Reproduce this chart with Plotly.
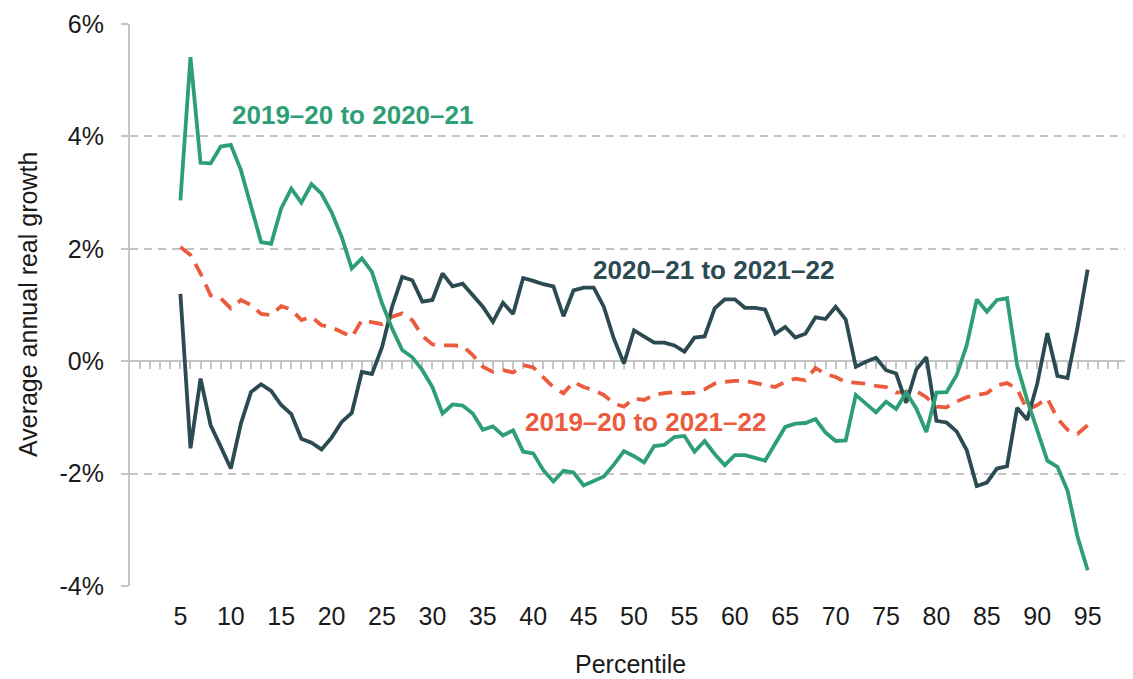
import plotly.graph_objects as go

percentiles = list(range(5, 96))

growth_2019_20_to_2020_21 = [
    2.86, 5.41, 3.53, 3.52, 3.82, 3.85, 3.40, 2.75, 2.12, 2.09,
    2.72, 3.07, 2.82, 3.15, 2.98, 2.65, 2.21, 1.65, 1.83, 1.59,
    1.03, 0.58, 0.20, 0.07, -0.16, -0.46, -0.93, -0.77, -0.79, -0.93,
    -1.22, -1.16, -1.32, -1.23, -1.61, -1.64, -1.94, -2.14, -1.95, -1.98,
    -2.21, -2.13, -2.05, -1.84, -1.60, -1.69, -1.80, -1.51, -1.49, -1.35,
    -1.33, -1.61, -1.42, -1.65, -1.85, -1.67, -1.67, -1.72, -1.77, -1.47,
    -1.17, -1.11, -1.10, -1.03, -1.27, -1.42, -1.41, -0.60, -0.75, -0.91,
    -0.72, -0.85, -0.56, -0.84, -1.26, -0.56, -0.55, -0.25, 0.28, 1.10,
    0.88, 1.09, 1.12, -0.07, -0.69, -1.23, -1.77, -1.88, -2.30, -3.13,
    -3.72,
]

growth_2020_21_to_2021_22 = [
    1.20, -1.55, -0.31, -1.14, -1.52, -1.91, -1.11, -0.55, -0.41, -0.53,
    -0.78, -0.94, -1.38, -1.45, -1.57, -1.36, -1.08, -0.92, -0.19, -0.23,
    0.25, 0.97, 1.50, 1.44, 1.06, 1.09, 1.56, 1.33, 1.38, 1.17,
    0.97, 0.70, 1.04, 0.84, 1.48, 1.43, 1.37, 1.33, 0.80, 1.26,
    1.31, 1.31, 0.97, 0.40, -0.04, 0.55, 0.44, 0.33, 0.33, 0.28,
    0.17, 0.42, 0.44, 0.94, 1.10, 1.10, 0.95, 0.95, 0.92, 0.49,
    0.61, 0.42, 0.49, 0.78, 0.75, 0.97, 0.74, -0.10, -0.01, 0.06,
    -0.16, -0.22, -0.74, -0.15, 0.07, -1.06, -1.09, -1.25, -1.58, -2.22,
    -2.16, -1.91, -1.87, -0.83, -1.04, -0.40, 0.50, -0.26, -0.30, 0.61,
    1.63,
]

growth_2019_20_to_2021_22 = [
    2.03, 1.89, 1.56, 1.17, 1.12, 0.94, 1.09, 1.00, 0.84, 0.82,
    0.98, 0.92, 0.73, 0.79, 0.64, 0.60, 0.52, 0.43, 0.73, 0.70,
    0.66, 0.79, 0.85, 0.73, 0.45, 0.30, 0.28, 0.28, 0.27, 0.11,
    -0.10, -0.19, -0.16, -0.20, -0.07, -0.11, -0.28, -0.46, -0.57, -0.37,
    -0.46, -0.52, -0.60, -0.75, -0.81, -0.66, -0.69, -0.60, -0.57, -0.55,
    -0.57, -0.56, -0.50, -0.40, -0.37, -0.35, -0.35, -0.39, -0.42, -0.46,
    -0.37, -0.31, -0.34, -0.12, -0.23, -0.28, -0.37, -0.39, -0.40, -0.44,
    -0.46, -0.56, -0.55, -0.53, -0.64, -0.81, -0.82, -0.72, -0.64, -0.60,
    -0.57, -0.43, -0.39, -0.49, -0.87, -0.78, -0.66, -1.02, -1.22, -1.29,
    -1.14,
]

x_tick_vals = list(range(5, 96, 5))
x_tick_text = [str(v) for v in x_tick_vals]
y_tick_vals = [-4, -2, 0, 2, 4, 6]
y_tick_text = ["-4%", "-2%", "0%", "2%", "4%", "6%"]
minor_tick_vals = list(range(1, 100))

GREEN = "#2e9e74"
DARK = "#2c4a51"
RED = "#ec5b3d"
GRID = "#c4c4c4"
TEXT = "#1a1a1a"
FONT = "Liberation Sans, Arial, sans-serif"
FS = 25

fig = go.Figure()

fig.add_trace(go.Scatter(
    x=percentiles, y=growth_2019_20_to_2021_22, mode="lines",
    line=dict(color=RED, width=3.8, dash="14px,9px"),
    name="2019–20 to 2021–22", hoverinfo="skip"))
fig.add_trace(go.Scatter(
    x=percentiles, y=growth_2020_21_to_2021_22, mode="lines",
    line=dict(color=DARK, width=3.8),
    name="2020–21 to 2021–22", hoverinfo="skip"))
fig.add_trace(go.Scatter(
    x=percentiles, y=growth_2019_20_to_2020_21, mode="lines",
    line=dict(color=GREEN, width=3.8),
    name="2019–20 to 2020–21", hoverinfo="skip"))

# invisible trace to register the zero-line axis with minor ticks
fig.add_trace(go.Scatter(
    x=[minor_tick_vals[0]], y=[0], xaxis="x2", mode="markers",
    marker=dict(opacity=0), showlegend=False, hoverinfo="skip"))

# page body has an 8px default margin; figure is sized to compensate
fig.update_layout(
    width=1125, height=671,
    margin=dict(l=122, r=3, t=16, b=93),
    paper_bgcolor="white", plot_bgcolor="white",
    showlegend=False,
    font=dict(family=FONT, size=FS, color=TEXT),
    xaxis=dict(
        range=[0, 99.2], tickvals=x_tick_vals, ticktext=x_tick_text,
        showgrid=False, zeroline=False, showline=False,
        ticks="outside", ticklen=8, tickcolor="rgba(0,0,0,0)",
        tickfont=dict(size=FS, color=TEXT),
    ),
    xaxis2=dict(
        overlaying="x", anchor="free", position=0.4, side="bottom",
        range=[0, 99.2], tickvals=minor_tick_vals, showticklabels=False,
        ticks="outside", ticklen=7, tickwidth=2, tickcolor=GRID,
        showline=True, linecolor=GRID, linewidth=2,
        showgrid=False, zeroline=False, layer="below traces",
    ),
    yaxis=dict(
        range=[-4, 6], tickvals=y_tick_vals, ticktext=y_tick_text,
        showgrid=True, gridcolor=GRID, gridwidth=1.5, griddash="8px,6px",
        zeroline=False, showline=True, linecolor=GRID, linewidth=2,
        ticks="outside", ticklen=7, tickwidth=2, tickcolor=GRID,
        ticklabelstandoff=12,
        tickfont=dict(size=FS, color=TEXT),
    ),
    annotations=[
        dict(x=22.1, y=4.38, xref="x", yref="y", text="<b>2019–20 to 2020–21</b>",
             showarrow=False, font=dict(size=FS + 1, color=GREEN, family=FONT)),
        dict(x=57.9, y=1.62, xref="x", yref="y", text="<b>2020–21 to 2021–22</b>",
             showarrow=False, font=dict(size=FS + 1, color=DARK, family=FONT)),
        dict(x=51.1, y=-1.09, xref="x", yref="y", text="<b>2019–20 to 2021–22</b>",
             showarrow=False, font=dict(size=FS + 1, color=RED, family=FONT)),
        dict(x=0.5, y=-0.139, xref="paper", yref="paper", text="Percentile",
             showarrow=False, xanchor="center", yanchor="middle",
             font=dict(size=FS, color=TEXT, family=FONT)),
        dict(x=-0.102, y=0.5, xref="paper", yref="paper",
             text="Average annual real growth", textangle=-90,
             showarrow=False, xanchor="center", yanchor="middle",
             font=dict(size=FS, color=TEXT, family=FONT)),
    ],
)

fig.write_html("out.html")
